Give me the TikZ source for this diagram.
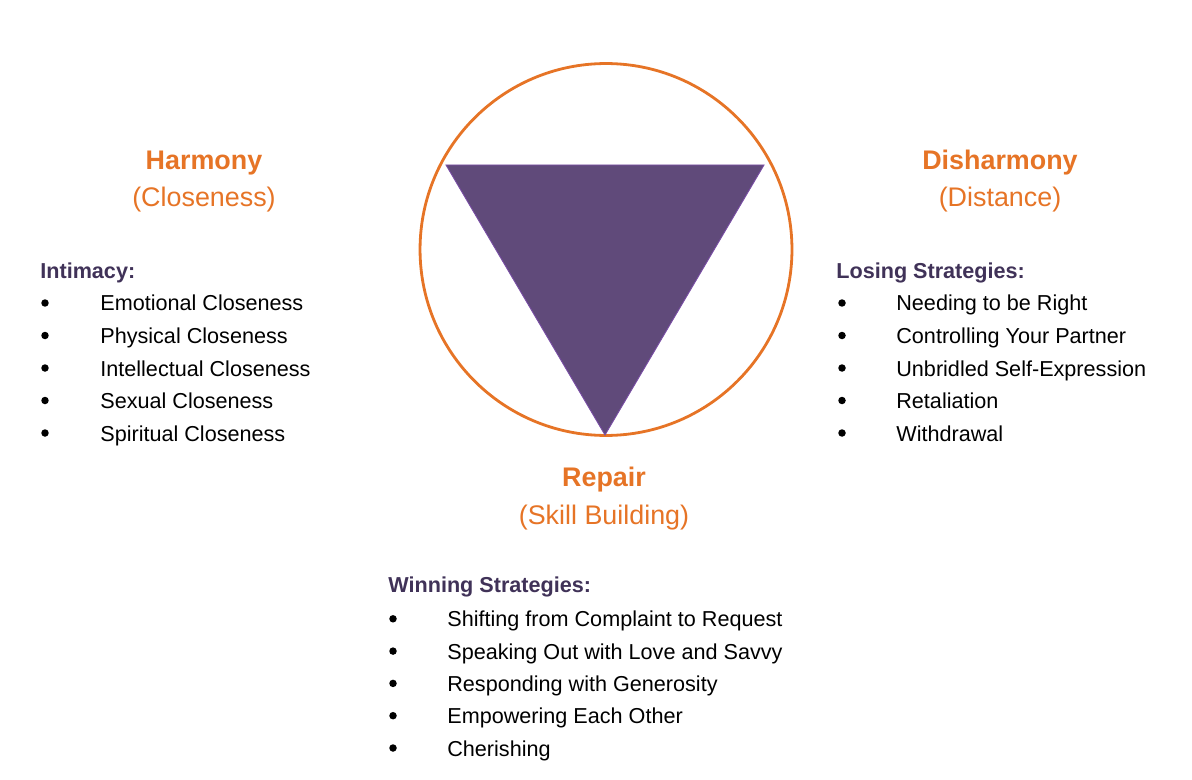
\documentclass[tikz,border=0pt]{standalone}
\usepackage{fontspec}
\setmainfont{Liberation Sans}
\definecolor{harmorange}{RGB}{230,116,38}
\definecolor{triviolet}{RGB}{96,74,122}
\definecolor{triedge}{RGB}{122,78,166}
\definecolor{headpurple}{RGB}{64,50,88}
\begin{document}
\begin{tikzpicture}[x=0.02cm, y=-0.02cm,
    title/.style={font=\fontsize{15.3}{18}\selectfont\bfseries, text=harmorange, anchor=base, inner sep=0pt},
    subtitle/.style={font=\fontsize{15.3}{18}\selectfont, text=harmorange, anchor=base, inner sep=0pt},
    listhead/.style={font=\fontsize{12.3}{15}\selectfont\bfseries, text=headpurple, anchor=base west, inner sep=0pt},
    listitem/.style={font=\fontsize{12.3}{15}\selectfont, anchor=base west, inner sep=0pt},
    bulletmark/.style={circle, fill=black, inner sep=0pt, minimum size=0.15cm}]
    \useasboundingbox (0,0) rectangle (1192,780);

    % 1. circle and triangle
    \coordinate (centre) at (606,249.5);
    \draw[harmorange, line width=1.6pt] (centre) circle[radius=3.72cm];
    \filldraw[fill=triviolet, draw=triedge, line width=0.5pt]
        (446,165) coordinate (tl) -- (764,165) coordinate (tr) -- (605,435) coordinate (tb) -- cycle;

    % 2. titles
    \node[title] (harmony) at (204,170) {Harmony};
    \node[subtitle] (closeness) at (204,207) {(Closeness)};
    \node[title] (disharmony) at (1000,170) {Disharmony};
    \node[subtitle] (distance) at (1000,207) {(Distance)};
    \node[title] (repair) at (604,486) {Repair};
    \node[subtitle] (skill) at (604,524) {(Skill Building)};

    % 3. lists
    \node[listhead] (intimacy) at (40,278) {Intimacy:};
    \foreach \txt [count=\i] in {Emotional Closeness, Physical Closeness, Intellectual Closeness, Sexual Closeness, Spiritual Closeness} {
        \node[bulletmark] (intdot\i) at (45,270.5+32.5*\i) {};
        \node[listitem] (int\i) at (100,278.5+32.5*\i) {\txt};
    }

    \node[listhead] (losing) at (836,278) {Losing Strategies:};
    \foreach \txt [count=\i] in {Needing to be Right, Controlling Your Partner, Unbridled Self-Expression, Retaliation, Withdrawal} {
        \node[bulletmark] (losedot\i) at (842,270.5+32.5*\i) {};
        \node[listitem] (lose\i) at (896,278.5+32.5*\i) {\txt};
    }

    \node[listhead] (winning) at (388,592) {Winning Strategies:};
    \foreach \txt [count=\i] in {Shifting from Complaint to Request, Speaking Out with Love and Savvy, Responding with Generosity, Empowering Each Other, Cherishing} {
        \node[bulletmark] (windot\i) at (393,586.5+32.3*\i) {};
        \node[listitem] (win\i) at (447,594.5+32.3*\i) {\txt};
    }
\end{tikzpicture}
\end{document}
